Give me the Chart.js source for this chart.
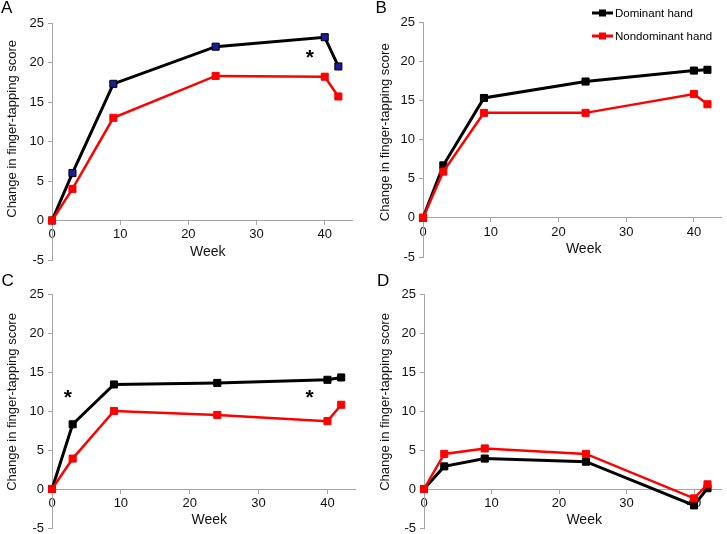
<!DOCTYPE html>
<html>
<head>
<meta charset="utf-8">
<script src="https://cdn.jsdelivr.net/npm/chart.js@4.4.0/dist/chart.umd.min.js"></script>
<style>
html, body { margin: 0; padding: 0; background: #fff; }
#wrap { position: relative; width: 727px; height: 534px; overflow: hidden; }
canvas { position: absolute; }
</style>
</head>
<body>
<div id="wrap">
	<canvas id="cA" width="364" height="267" style="left:0;top:0"></canvas>
	<canvas id="cB" width="363" height="267" style="left:364px;top:0"></canvas>
	<canvas id="cC" width="364" height="267" style="left:0;top:267px"></canvas>
	<canvas id="cD" width="363" height="267" style="left:364px;top:267px"></canvas>
</div>
<script>
// weeks of follow-up
var weeks = [0, 3, 9, 24, 40, 42];

// change in finger-tapping score, per panel
var domA = [0, 6.0, 17.3, 22.0, 23.2, 19.5];
var nonA = [0, 4.0, 13.0, 18.3, 18.2, 15.7];
var domB = [0, 6.7, 15.3, 17.4, 18.8, 18.9];
var nonB = [0, 5.9, 13.4, 13.4, 15.8, 14.5];
var domC = [0, 8.3, 13.4, 13.6, 14.0, 14.3];
var nonC = [0, 3.9, 10.0, 9.5, 8.7, 10.8];
var domD = [0, 2.9, 3.9, 3.5, -2.1, 0.1];
var nonD = [0, 4.5, 5.2, 4.5, -1.2, 0.6];

var yTicks = [-5, 0, 5, 10, 15, 20, 25];
var xTicks = [0, 10, 20, 30, 40];

// significance marks (week, score)
var starsA = [[37.8, 21.3]];
var starsC = [[2.3, 12.4], [37.4, 12.4]];

var seriesNames = ['Dominant hand', 'Nondominant hand'];
var FONT = '"Liberation Sans", Arial, Helvetica, sans-serif';
var AXIS = '#a6a6a6';

Chart.defaults.font.family = FONT;
Chart.defaults.color = '#111';

function pts(vals) {
	return weeks.map(function (w, i) { return { x: w, y: vals[i] }; });
}

var extras = {
	id: 'extras',
	afterDraw: function (chart, args, o) {
		var ctx = chart.ctx;
		var xs = chart.scales.x, ys = chart.scales.y;
		ctx.save();
		ctx.fillStyle = '#000';
		ctx.textBaseline = 'alphabetic';
		ctx.textAlign = 'left';
		ctx.font = '17px ' + FONT;
		ctx.fillText(o.letter, o.lx, o.ly);

		ctx.font = 'bold 21px ' + FONT;
		ctx.textAlign = 'center';
		(o.stars || []).forEach(function (s) {
			ctx.fillText('*', xs.getPixelForValue(s[0]), ys.getPixelForValue(s[1]) + 12);
		});

		if (o.legend) {
			var cols = ['#000', '#ff0000'];
			var rows = [13, 36];
			ctx.font = '11.5px ' + FONT;
			ctx.textAlign = 'left';
			ctx.textBaseline = 'middle';
			for (var i = 0; i < 2; i++) {
				ctx.strokeStyle = cols[i];
				ctx.lineWidth = 3;
				ctx.beginPath();
				ctx.moveTo(228, rows[i]);
				ctx.lineTo(249, rows[i]);
				ctx.stroke();
				ctx.fillStyle = cols[i];
				ctx.fillRect(235, rows[i] - 3.5, 7, 7);
				ctx.fillStyle = '#000';
				ctx.fillText(seriesNames[i], 251, rows[i] + 0.5);
			}
		}
		ctx.restore();
	}
};

function pad(n) {
	var s = '';
	for (var i = 0; i < n; i++) s += '\u00a0';
	return s;
}

function makePanel(id, dom, non, domPoint, lay, ex) {
	var ctx = document.getElementById(id).getContext('2d');
	return new Chart(ctx, {
		type: 'line',
		data: {
			datasets: [
				{
					label: seriesNames[0],
					data: pts(dom),
					borderColor: '#000',
					borderWidth: 3,
					pointStyle: 'rect',
					pointRadius: 5,
					pointBackgroundColor: domPoint,
					pointBorderColor: '#000',
					pointBorderWidth: 1,
					tension: 0,
					clip: false,
					order: 1
				},
				{
					label: seriesNames[1],
					data: pts(non),
					borderColor: '#ff0000',
					borderWidth: 2.5,
					pointStyle: 'rect',
					pointRadius: 5,
					pointBackgroundColor: '#ff0000',
					pointBorderColor: '#ff0000',
					pointBorderWidth: 1,
					tension: 0,
					clip: false,
					order: 0
				}
			]
		},
		options: {
			responsive: false,
			animation: false,
			events: [],
			layout: { padding: { left: lay.left, top: lay.top, right: lay.right, bottom: lay.bottom } },
			plugins: {
				legend: { display: false },
				tooltip: { enabled: false },
				extras: ex
			},
			scales: {
				x: {
					type: 'linear',
					position: { y: 0 },
					min: 0,
					max: 44,
					afterBuildTicks: function (s) { s.ticks = xTicks.map(function (v) { return { value: v }; }); },
					afterFit: function (s) { s.paddingLeft = 0; s.paddingRight = 0; },
					grid: { drawOnChartArea: false, drawTicks: true, tickLength: 4, color: AXIS },
					border: { display: true, color: AXIS, width: 1 },
					ticks: { font: { size: 13 }, padding: 2.5, maxRotation: 0, color: '#111' },
					title: {
						display: true,
						text: pad(lay.xs) + 'Week',
						font: { size: 14 },
						color: '#111',
						padding: { top: -1.5, bottom: 0 }
					}
				},
				y: {
					type: 'linear',
					position: 'left',
					min: -5,
					max: 25,
					afterBuildTicks: function (s) { s.ticks = yTicks.map(function (v) { return { value: v }; }); },
					afterFit: function (s) { s.width = lay.yw; s.paddingTop = 0; s.paddingBottom = 0; },
					grid: { drawOnChartArea: false, drawTicks: true, tickLength: 4, color: AXIS },
					border: { display: true, color: AXIS, width: 1 },
					ticks: { font: { size: 13 }, padding: 4, color: '#111' },
					title: {
						display: true,
						text: pad(lay.ys) + 'Change in finger-tapping score',
						font: { size: 13 },
						color: '#111',
						padding: { top: 5, bottom: 0 }
					}
				}
			}
		},
		plugins: [extras]
	});
}

makePanel('cA', domA, nonA, '#1a1f96',
	{ left: 0, top: 23, right: 12, bottom: 7, yw: 52, xs: 3, ys: 7 },
	{ letter: 'A', lx: 1, ly: 12.7, stars: starsA });
makePanel('cB', domB, nonB, '#000',
	{ left: 9, top: 22, right: 0, bottom: 10, yw: 50, xs: 6, ys: 4 },
	{ letter: 'B', lx: 11.5, ly: 12.7, legend: true });
makePanel('cC', domC, nonC, '#000',
	{ left: 0, top: 27, right: 9, bottom: 5, yw: 52, xs: 3, ys: 5 },
	{ letter: 'C', lx: 1.5, ly: 19.3, stars: starsC });
makePanel('cD', domD, nonD, '#000',
	{ left: 9, top: 27, right: 1, bottom: 5, yw: 51, xs: 6, ys: 5 },
	{ letter: 'D', lx: 13, ly: 19.3 });
</script>
</body>
</html>
